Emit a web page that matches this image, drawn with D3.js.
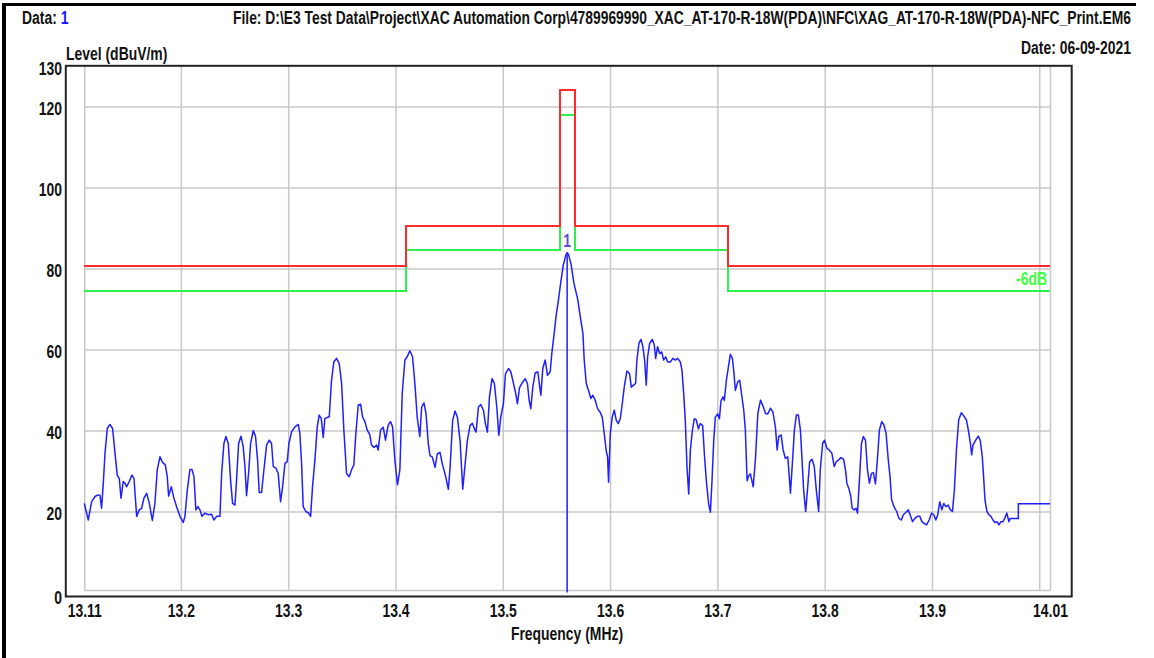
<!DOCTYPE html>
<html>
<head>
<meta charset="utf-8">
<script src="https://cdn.jsdelivr.net/npm/d3@7"></script>
<style>
  html, body { margin: 0; padding: 0; background: #fff; }
  svg { display: block; }
</style>
</head>
<body>
<svg id="chart" width="1154" height="658"></svg>
<script>
// ---- header / titles ----
const dataLabel = "Data: ";
const dataIndex = "1";
const fileLabel = "File: D:\\E3 Test Data\\Project\\XAC Automation Corp\\4789969990_XAC_AT-170-R-18W(PDA)\\NFC\\XAG_AT-170-R-18W(PDA)-NFC_Print.EM6";
const dateLabel = "Date: 06-09-2021";
const yTitle = "Level (dBuV/m)";
const xTitle = "Frequency (MHz)";

// ---- axes ----
const xDomain = [13.11, 14.01];
const yDomain = [0, 130];
const xTickValues = [13.11, 13.2, 13.3, 13.4, 13.5, 13.6, 13.7, 13.8, 13.9, 14.01];
const xGridValues = [13.11, 13.2, 13.3, 13.4, 13.5, 13.6, 13.7, 13.8, 13.9, 14.0, 14.01];
const yTickValues = [0, 20, 40, 60, 80, 100, 120, 130];
const yGridValues = [0, 20, 40, 60, 80, 100, 120];

// ---- limit line (red) and -6 dB margin line (green), stepped by band ----
const bandEdges = [13.11, 13.41, 13.553, 13.567, 13.71, 14.01];
const limitLevels = [80.5, 90.5, 124, 90.5, 80.5];
const marginLevels = [74.5, 84.5, 118, 84.5, 74.5];
const marginLabel = "-6dB";

// ---- measured trace (MHz, dBuV/m) ----
const traceFreq = [
  13.1100, 13.1137, 13.1168, 13.1199, 13.1230, 13.1246, 13.1261, 13.1277, 13.1293, 13.1314,
  13.1339, 13.1364, 13.1386, 13.1407, 13.1426, 13.1442, 13.1463, 13.1479, 13.1494, 13.1519,
  13.1544, 13.1563, 13.1588, 13.1612, 13.1634, 13.1656, 13.1681, 13.1706, 13.1734, 13.1758,
  13.1780, 13.1805, 13.1830, 13.1855, 13.1873, 13.1886, 13.1911, 13.1935, 13.1960, 13.1991,
  13.2022, 13.2038, 13.2060, 13.2084, 13.2103, 13.2122, 13.2140, 13.2159, 13.2178, 13.2196,
  13.2224, 13.2255, 13.2286, 13.2308, 13.2333, 13.2364, 13.2380, 13.2401, 13.2420, 13.2442,
  13.2463, 13.2482, 13.2504, 13.2519, 13.2538, 13.2560, 13.2581, 13.2597, 13.2612, 13.2631,
  13.2650, 13.2675, 13.2696, 13.2715, 13.2730, 13.2752, 13.2774, 13.2799, 13.2824, 13.2845,
  13.2861, 13.2886, 13.2907, 13.2929, 13.2948, 13.2970, 13.2991, 13.3007, 13.3032, 13.3063,
  13.3094, 13.3109, 13.3125, 13.3140, 13.3165, 13.3187, 13.3209, 13.3227, 13.3249, 13.3271,
  13.3289, 13.3308, 13.3327, 13.3342, 13.3364, 13.3383, 13.3404, 13.3426, 13.3451, 13.3476,
  13.3498, 13.3519, 13.3544, 13.3569, 13.3591, 13.3612, 13.3631, 13.3653, 13.3675, 13.3693,
  13.3715, 13.3737, 13.3761, 13.3777, 13.3799, 13.3824, 13.3839, 13.3861, 13.3886, 13.3907,
  13.3932, 13.3954, 13.3973, 13.3994, 13.4019, 13.4041, 13.4063, 13.4088, 13.4109, 13.4134,
  13.4159, 13.4181, 13.4202, 13.4227, 13.4244, 13.4266, 13.4285, 13.4306, 13.4322, 13.4344,
  13.4369, 13.4390, 13.4415, 13.4437, 13.4462, 13.4493, 13.4509, 13.4533, 13.4555, 13.4577,
  13.4602, 13.4627, 13.4649, 13.4670, 13.4695, 13.4717, 13.4736, 13.4751, 13.4773, 13.4795,
  13.4820, 13.4838, 13.4857, 13.4876, 13.4900, 13.4922, 13.4944, 13.4963, 13.4981, 13.5006,
  13.5025, 13.5053, 13.5075, 13.5100, 13.5121, 13.5137, 13.5156, 13.5177, 13.5208, 13.5230,
  13.5246, 13.5261, 13.5280, 13.5302, 13.5327, 13.5342, 13.5355, 13.5373, 13.5395, 13.5417,
  13.5442, 13.5457, 13.5479, 13.5498, 13.5519, 13.5540, 13.5565, 13.5590, 13.5601, 13.5612,
  13.5637, 13.5662, 13.5700, 13.5722, 13.5747, 13.5759, 13.5778, 13.5799, 13.5821, 13.5840,
  13.5862, 13.5883, 13.5908, 13.5927, 13.5946, 13.5964, 13.5977, 13.5986, 13.6002, 13.6020,
  13.6039, 13.6058, 13.6076, 13.6095, 13.6110, 13.6132, 13.6157, 13.6182, 13.6198, 13.6219,
  13.6238, 13.6250, 13.6269, 13.6288, 13.6306, 13.6322, 13.6337, 13.6350, 13.6369, 13.6393,
  13.6412, 13.6425, 13.6443, 13.6462, 13.6481, 13.6499, 13.6518, 13.6537, 13.6561, 13.6586,
  13.6608, 13.6630, 13.6655, 13.6670, 13.6686, 13.6701, 13.6717, 13.6733, 13.6748, 13.6767,
  13.6785, 13.6804, 13.6823, 13.6841, 13.6863, 13.6879, 13.6897, 13.6919, 13.6935, 13.6950,
  13.6966, 13.6981, 13.7003, 13.7019, 13.7034, 13.7053, 13.7065, 13.7084, 13.7103, 13.7121,
  13.7140, 13.7152, 13.7168, 13.7190, 13.7208, 13.7227, 13.7246, 13.7261, 13.7277, 13.7292,
  13.7308, 13.7334, 13.7356, 13.7377, 13.7402, 13.7427, 13.7449, 13.7470, 13.7495, 13.7517,
  13.7541, 13.7557, 13.7572, 13.7594, 13.7613, 13.7634, 13.7656, 13.7668, 13.7681, 13.7699,
  13.7718, 13.7736, 13.7755, 13.7774, 13.7789, 13.7804, 13.7823, 13.7842, 13.7860, 13.7882,
  13.7903, 13.7922, 13.7944, 13.7959, 13.7981, 13.7999, 13.8021, 13.8043, 13.8067, 13.8089,
  13.8108, 13.8129, 13.8151, 13.8176, 13.8194, 13.8207, 13.8225, 13.8244, 13.8256, 13.8275,
  13.8293, 13.8306, 13.8324, 13.8343, 13.8361, 13.8380, 13.8399, 13.8417, 13.8436, 13.8454,
  13.8473, 13.8491, 13.8510, 13.8532, 13.8553, 13.8572, 13.8593, 13.8609, 13.8624, 13.8646,
  13.8671, 13.8692, 13.8714, 13.8733, 13.8754, 13.8779, 13.8801, 13.8819, 13.8841, 13.8863,
  13.8887, 13.8906, 13.8925, 13.8949, 13.8974, 13.8996, 13.9017, 13.9036, 13.9054, 13.9073,
  13.9092, 13.9110, 13.9129, 13.9150, 13.9172, 13.9191, 13.9209, 13.9228, 13.9249, 13.9274,
  13.9296, 13.9321, 13.9339, 13.9358, 13.9370, 13.9382, 13.9407, 13.9432, 13.9450, 13.9469,
  13.9481, 13.9494, 13.9512, 13.9531, 13.9549, 13.9568, 13.9587, 13.9605, 13.9624, 13.9642,
  13.9661, 13.9679, 13.9698, 13.9717, 13.9729, 13.9754, 13.9785, 13.9805, 13.9805, 14.0100
];
const traceLevel = [
  22.0, 17.9, 22.4, 23.7, 24.1, 24.0, 20.8, 27.0, 34.4, 40.5,
  41.5, 40.5, 34.4, 29.0, 28.2, 23.3, 27.4, 27.0, 26.1, 27.4,
  29.0, 28.2, 18.8, 20.4, 20.8, 23.3, 24.5, 22.0, 17.8, 22.0,
  30.3, 33.5, 32.1, 31.5, 28.6, 23.8, 26.1, 23.3, 21.2, 18.8,
  17.3, 18.8, 25.3, 30.3, 30.4, 28.6, 20.4, 21.2, 20.4, 18.8,
  19.6, 19.2, 19.3, 17.9, 18.8, 18.8, 29.4, 36.8, 38.5, 36.8,
  27.8, 22.0, 21.6, 27.8, 36.8, 38.6, 36.0, 31.1, 23.9, 29.4,
  36.8, 40.0, 38.5, 32.7, 24.7, 24.7, 30.3, 36.4, 37.6, 36.8,
  31.1, 30.7, 29.4, 22.4, 26.1, 31.9, 32.3, 36.8, 39.7, 40.9,
  41.5, 39.3, 31.9, 21.2, 20.0, 19.7, 18.8, 26.1, 32.7, 40.9,
  43.8, 43.0, 38.3, 43.0, 43.2, 43.4, 52.4, 57.0, 57.8, 56.5,
  51.6, 40.1, 29.4, 28.6, 30.3, 31.5, 39.3, 46.3, 46.5, 43.4,
  42.2, 40.1, 38.9, 36.4, 35.8, 36.4, 35.2, 40.1, 40.8, 37.6,
  41.3, 42.2, 40.9, 32.7, 26.6, 30.3, 49.2, 57.4, 58.2, 59.7,
  58.2, 51.6, 43.4, 38.5, 45.8, 46.8, 44.1, 36.7, 33.8, 33.4,
  30.9, 34.2, 34.6, 31.7, 29.3, 25.5, 30.9, 42.5, 44.8, 43.3,
  37.5, 25.5, 31.7, 37.5, 41.2, 41.8, 40.4, 39.6, 45.8, 46.4,
  45.0, 41.7, 39.6, 48.3, 52.8, 51.6, 45.8, 38.8, 43.3, 46.6,
  54.0, 55.3, 54.5, 51.6, 49.1, 46.6, 50.6, 51.6, 52.8, 51.6,
  47.4, 45.4, 50.7, 54.2, 54.5, 51.2, 48.7, 55.3, 57.4, 53.6,
  54.5, 59.0, 64.0, 68.5, 72.2, 76.5, 81.0, 83.5, 83.9, 83.5,
  81.0, 76.5, 72.2, 68.1, 64.0, 57.4, 51.6, 49.9, 47.9, 48.7,
  47.4, 45.4, 44.5, 43.3, 39.2, 35.0, 33.4, 27.2, 39.2, 43.3,
  45.0, 42.5, 41.7, 42.9, 45.8, 50.7, 54.7, 54.0, 50.7, 51.2,
  51.6, 57.4, 61.5, 62.5, 60.7, 57.4, 51.2, 58.2, 61.5, 62.5,
  61.1, 57.8, 60.7, 59.0, 59.4, 57.4, 58.2, 56.9, 56.9, 57.8,
  57.4, 57.8, 56.9, 54.9, 49.1, 42.5, 30.9, 24.3, 35.0, 40.0,
  42.9, 42.6, 40.4, 41.7, 41.2, 34.2, 27.6, 21.8, 19.8, 27.6,
  37.5, 43.3, 44.1, 42.9, 47.4, 48.3, 47.4, 52.4, 55.7, 58.8,
  57.8, 54.9, 49.9, 52.0, 52.4, 48.7, 45.0, 40.0, 27.6, 28.8,
  29.3, 26.1, 33.5, 44.2, 47.5, 45.9, 44.2, 44.1, 45.5, 44.6,
  40.9, 35.2, 38.5, 38.9, 35.2, 33.1, 33.5, 29.4, 24.5, 31.9,
  40.1, 43.8, 43.8, 40.1, 32.7, 25.3, 20.0, 26.1, 32.3, 32.9,
  31.1, 25.3, 20.0, 30.3, 36.8, 37.6, 35.6, 35.2, 34.4, 31.1,
  32.3, 32.7, 33.3, 32.9, 30.3, 27.0, 25.7, 23.7, 20.8, 20.4,
  20.8, 19.6, 27.8, 36.8, 38.5, 37.6, 30.3, 27.0, 29.4, 29.6,
  26.8, 32.7, 40.1, 42.2, 41.3, 39.3, 32.7, 28.6, 22.9, 21.2,
  20.0, 18.3, 17.9, 19.2, 19.7, 20.4, 18.8, 17.5, 18.3, 18.8,
  18.8, 17.5, 17.1, 16.7, 17.9, 19.6, 19.2, 17.9, 19.2, 22.4,
  20.4, 22.0, 21.2, 21.6, 20.4, 20.0, 25.3, 35.2, 42.6, 44.4,
  43.6, 42.6, 40.1, 36.8, 34.0, 36.4, 37.6, 38.6, 37.6, 33.5,
  28.6, 22.9, 20.0, 19.2, 18.8, 17.9, 17.3, 17.5, 16.7, 17.5,
  17.5, 18.3, 19.6, 17.5, 18.3, 18.3, 18.3, 18.3, 21.9, 21.9
];

// ---- peak marker ----
const markerFreq = 13.56;
const markerLevel = 83.9;
const markerName = "1";

// ---- font: prefer a narrow sans, otherwise squeeze the regular one ----
function fontInstalled(name) {
  const ctx = document.createElement("canvas").getContext("2d");
  const s = "Level (dBuV/m) 0123456789";
  ctx.font = "bold 20px monospace";
  const a = ctx.measureText(s).width;
  ctx.font = `bold 20px "${name}", monospace`;
  const b = ctx.measureText(s).width;
  return Math.abs(a - b) > 0.5;
}
const hasNarrow = fontInstalled("Liberation Sans Narrow");
const FONT = hasNarrow ? "'Liberation Sans Narrow', sans-serif" : "'Liberation Sans', Arial, sans-serif";
const SX = hasNarrow ? 1 : 0.82;
const SY = 1.12;
const FS = 17;

const svg = d3.select("#chart");

// scales
const x = d3.scaleLinear().domain(xDomain).range([84.3, 1050]);
const y = d3.scaleLinear().domain(yDomain).range([592.5, 66]);

// a text element placed at (px,py), squeezed horizontally and a little tall
function addText(parent, px, py, str, anchor, color) {
  return parent.append("text")
    .attr("transform", `translate(${px},${py}) scale(${SX},${SY})`)
    .attr("text-anchor", anchor || "start")
    .attr("font-family", FONT)
    .attr("font-weight", "bold")
    .attr("font-size", FS)
    .attr("fill", color || "#111")
    .text(str);
}

// outer page border (top and left)
svg.append("line").attr("x1", 2).attr("x2", 1136).attr("y1", 4.5).attr("y2", 4.5)
  .attr("stroke", "#000").attr("stroke-width", 3);
svg.append("line").attr("x1", 4).attr("x2", 4).attr("y1", 3).attr("y2", 658)
  .attr("stroke", "#000").attr("stroke-width", 4);

// header line
const dataText = addText(svg, 22, 24, dataLabel, "start", "#111");
dataText.append("tspan").attr("fill", "#1a1aff").text(dataIndex);
addText(svg, 233, 24, fileLabel, "start", "#111")
  .attr("textLength", 898 / SX).attr("lengthAdjust", "spacingAndGlyphs");
addText(svg, 1131, 54, dateLabel, "end", "#111");
addText(svg, 66, 60, yTitle, "start", "#111");
addText(svg, 567, 640, xTitle, "middle", "#111");

// grid
const grid = svg.append("g").attr("class", "grid");
grid.append("g")
  .attr("transform", `translate(0,${y(0) - 2})`)
  .call(d3.axisBottom(x).tickValues(xGridValues).tickSize(-(y(0) - 2 - 66)).tickFormat(""))
  .call(g => g.select(".domain").remove())
  .call(g => g.selectAll("line").attr("stroke", "#c8c8c8").attr("stroke-width", 1.5));
grid.append("g")
  .attr("transform", `translate(${x(13.11)},0)`)
  .call(d3.axisLeft(y).tickValues(yGridValues).tickSize(-(x(14.01) - x(13.11))).tickFormat(""))
  .call(g => g.select(".domain").remove())
  .call(g => g.selectAll(".tick").filter(d => d === 0).attr("transform", `translate(0,${y(0) - 2})`))
  .call(g => g.selectAll("line").attr("stroke", "#c8c8c8").attr("stroke-width", 1.5));

// stepped lines for the limit bands
function stepPoints(levels) {
  const pts = [];
  levels.forEach((v, i) => {
    pts.push([bandEdges[i], v]);
    pts.push([bandEdges[i + 1], v]);
  });
  return pts;
}
const line = d3.line().x(d => x(d[0])).y(d => y(d[1]));

svg.append("path").datum(stepPoints(marginLevels)).attr("d", line)
  .attr("fill", "none").attr("stroke", "#2ef04f").attr("stroke-width", 2)
  .attr("shape-rendering", "crispEdges");
svg.append("path").datum(stepPoints(limitLevels)).attr("d", line)
  .attr("fill", "none").attr("stroke", "#ff2b2b").attr("stroke-width", 2)
  .attr("shape-rendering", "crispEdges");

addText(svg, 1047, 285, marginLabel, "end", "#3dff3d");

// measured trace
const tracePts = traceFreq.map((f, i) => [f, traceLevel[i]]);
svg.append("path").datum(tracePts).attr("d", line)
  .attr("fill", "none").attr("stroke", "#1f1fff").attr("stroke-width", 1.5)
  .attr("stroke-linejoin", "round");

// marker
svg.append("line")
  .attr("x1", x(markerFreq)).attr("x2", x(markerFreq))
  .attr("y1", y(markerLevel)).attr("y2", y(0))
  .attr("stroke", "#1f1fff").attr("stroke-width", 1.5);
addText(svg, x(markerFreq), y(markerLevel) - 6, markerName, "middle", "#5a4fd6");

// axes labels
const xAxis = svg.append("g")
  .attr("transform", `translate(0,${y(0)})`)
  .call(d3.axisBottom(x).tickValues(xTickValues).tickSize(0)
    .tickFormat(d => d === 13.11 ? "13.11" : d === 14.01 ? "14.01" : d3.format(".1f")(d)));
xAxis.select(".domain").remove();
xAxis.selectAll("text")
  .attr("x", null).attr("y", null).attr("dy", null)
  .attr("transform", `translate(0,24) scale(${SX},${SY})`)
  .attr("font-family", FONT).attr("font-weight", "bold").attr("font-size", FS)
  .attr("fill", "#111");

const yAxis = svg.append("g")
  .attr("transform", "translate(65,0)")
  .call(d3.axisLeft(y).tickValues(yTickValues).tickSize(0).tickFormat(d3.format("d")));
yAxis.select(".domain").remove();
yAxis.selectAll("text")
  .attr("x", null).attr("y", null).attr("dy", null)
  .attr("transform", d => `translate(-3,${d === 0 ? 10.5 : 8}) scale(${SX},${SY})`)
  .attr("text-anchor", "end")
  .attr("font-family", FONT).attr("font-weight", "bold").attr("font-size", FS)
  .attr("fill", "#111");

// plot frame
svg.append("rect")
  .attr("x", 65.8).attr("y", 65.8).attr("width", 1071.7 - 65.8).attr("height", 596.5 - 65.8)
  .attr("fill", "none").attr("stroke", "#222").attr("stroke-width", 2);
</script>
</body>
</html>
